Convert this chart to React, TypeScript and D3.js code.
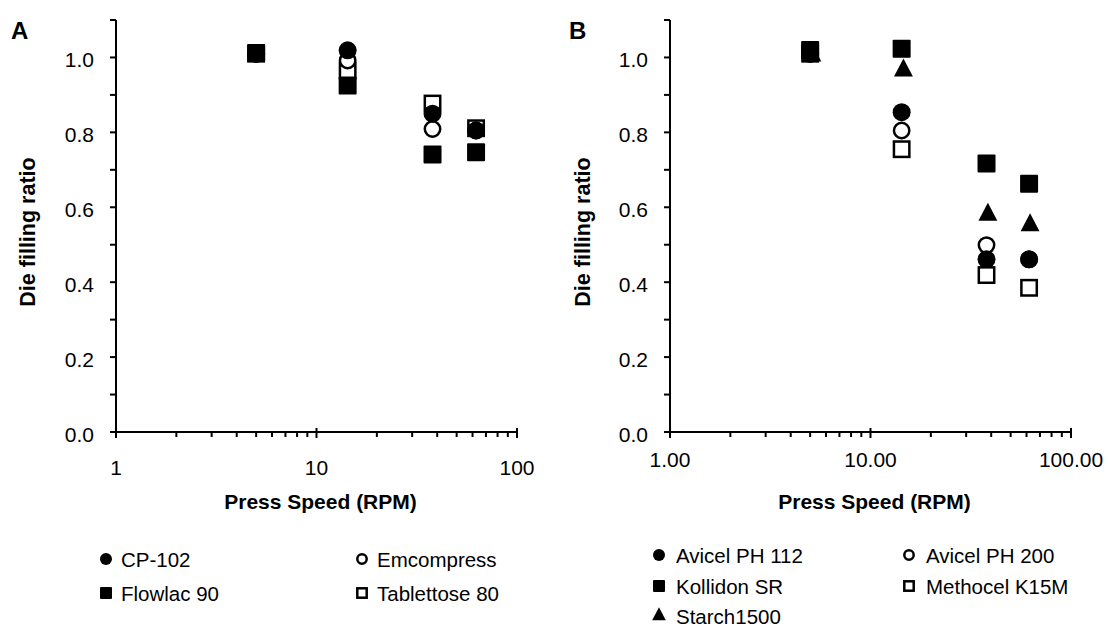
import React from "react";
import * as d3 from "d3";

// ---------- data ----------
const speedsA = [5, 14.3, 37.9, 62.5];
const cp102 = [1.01, 1.019, 0.85, 0.805];
const emcompress = [1.01, 0.992, 0.809, 0.805];
const flowlac90 = [1.012, 0.925, 0.741, 0.747];
const tablettose80 = [1.01, 0.965, 0.877, 0.811];

const speedsB = [5, 14.3, 37.9, 61.8];
const speedsStarch = [5.1, 14.6, 38.5, 62.5];
const avicel112 = [1.01, 0.854, 0.461, 0.461];
const avicel200 = [1.01, 0.805, 0.499, 0.461];
const kollidonSR = [1.02, 1.023, 0.717, 0.663];
const methocelK15M = [1.01, 0.755, 0.419, 0.385];
const starch1500 = [1.005, 0.965, 0.58, 0.552];

const yMajorTicks = [0, 0.2, 0.4, 0.6, 0.8, 1.0];
const yMinorTicks = [0.1, 0.3, 0.5, 0.7, 0.9, 1.1];
const xMajorTicks = [1, 10, 100];
const xMinorTicks = [2, 3, 4, 5, 6, 7, 8, 9, 20, 30, 40, 50, 60, 70, 80, 90];
const xTickLabelsA = ["1", "10", "100"];
const xTickLabelsB = ["1.00", "10.00", "100.00"];
const yTickLabels = ["0.0", "0.2", "0.4", "0.6", "0.8", "1.0"];

type Shape = "circle" | "circleOpen" | "square" | "squareOpen" | "triangle";
interface Series { name: string; x: number[]; y: number[]; shape: Shape }

const seriesA: Series[] = [
  { name: "CP-102", x: speedsA, y: cp102, shape: "circle" },
  { name: "Emcompress", x: speedsA, y: emcompress, shape: "circleOpen" },
  { name: "Flowlac 90", x: speedsA, y: flowlac90, shape: "square" },
  { name: "Tablettose 80", x: speedsA, y: tablettose80, shape: "squareOpen" },
];
const drawOrderA = [3, 1, 0, 2];

const seriesB: Series[] = [
  { name: "Avicel PH 112", x: speedsB, y: avicel112, shape: "circle" },
  { name: "Avicel PH 200", x: speedsB, y: avicel200, shape: "circleOpen" },
  { name: "Kollidon SR", x: speedsB, y: kollidonSR, shape: "square" },
  { name: "Methocel K15M", x: speedsB, y: methocelK15M, shape: "squareOpen" },
  { name: "Starch1500", x: speedsStarch, y: starch1500, shape: "triangle" },
];
const drawOrderB = [1, 0, 3, 4, 2];

const FONT = "'Liberation Sans', Arial, sans-serif";

function Marker({ cx, cy, shape, size }: { cx: number; cy: number; shape: Shape; size: number }) {
  const h = size / 2;
  switch (shape) {
    case "circle":
      return <circle cx={cx} cy={cy} r={h} fill="#000" />;
    case "circleOpen":
      return <circle cx={cx} cy={cy} r={h - 1.3} fill="#fff" stroke="#000" strokeWidth={2.5} />;
    case "square":
      return <rect x={cx - h} y={cy - h} width={size} height={size} rx={1} fill="#000" />;
    case "squareOpen":
      return (
        <rect x={cx - h + 1.3} y={cy - h + 1.3} width={size - 2.6} height={size - 2.6} fill="#fff" stroke="#000" strokeWidth={2.5} />
      );
    case "triangle": {
      const w = size * 1.05;
      const ht = size;
      const p = d3.path();
      p.moveTo(cx, cy - (ht * 2) / 3);
      p.lineTo(cx + w / 2, cy + ht / 3);
      p.lineTo(cx - w / 2, cy + ht / 3);
      p.closePath();
      return <path d={p.toString()} fill="#000" />;
    }
  }
  return null;
}

interface PanelProps {
  x0: number;
  x1: number;
  series: Series[];
  order: number[];
  xLabels: string[];
  xLabelBaseline: number;
  letter: string;
  letterX: number;
  yTitleX: number;
  legend: { colX: number[]; textDx: number; rows: number[] };
}

function Panel(props: PanelProps) {
  const { x0, x1, series, order, xLabels, xLabelBaseline, letter, letterX, yTitleX, legend } = props;
  const xs = d3.scaleLog().domain([1, 100]).range([x0, x1]);
  const ys = d3.scaleLinear().domain([0, 1.1]).range([432, 20]);
  const yBase = ys(0);
  const axisW = 2;
  return (
    <g>
      <text x={letterX} y={39} fontFamily={FONT} fontWeight="bold" fontSize={24}>{letter}</text>
      {/* y axis */}
      <line x1={x0} x2={x0} y1={ys(1.1)} y2={yBase + 1} stroke="#000" strokeWidth={axisW} />
      {yMajorTicks.map((t, i) => (
        <g key={"ym" + i}>
          <line x1={x0 - 6} x2={x0} y1={ys(t)} y2={ys(t)} stroke="#000" strokeWidth={axisW} />
          <text x={x0 - 22} y={ys(t) + 10} textAnchor="end" fontFamily={FONT} fontSize={21}>{yTickLabels[i]}</text>
        </g>
      ))}
      {yMinorTicks.map((t, i) => (
        <line key={"yn" + i} x1={x0 - 6} x2={x0} y1={ys(t)} y2={ys(t)} stroke="#000" strokeWidth={axisW} />
      ))}
      <text
        transform={`translate(${yTitleX},${(ys(0) + ys(1.1)) / 2 + 6}) rotate(-90)`}
        textAnchor="middle"
        fontFamily={FONT}
        fontWeight="bold"
        fontSize={21.5}
        dy="0.35em"
      >
        Die filling ratio
      </text>
      {/* x axis */}
      <line x1={x0 - 1} x2={x1 + 1} y1={yBase} y2={yBase} stroke="#000" strokeWidth={axisW} />
      {xMajorTicks.map((t, i) => (
        <g key={"xm" + i}>
          <line x1={xs(t)} x2={xs(t)} y1={yBase - 4} y2={yBase + 6} stroke="#000" strokeWidth={axisW} />
          <text x={xs(t)} y={xLabelBaseline} textAnchor="middle" fontFamily={FONT} fontSize={21}>{xLabels[i]}</text>
        </g>
      ))}
      {xMinorTicks.map((t, i) => (
        <line key={"xn" + i} x1={xs(t)} x2={xs(t)} y1={yBase} y2={yBase + 5} stroke="#000" strokeWidth={axisW} />
      ))}
      <text x={(x0 + x1) / 2 + 4} y={509} textAnchor="middle" fontFamily={FONT} fontWeight="bold" fontSize={21}>
        Press Speed (RPM)
      </text>
      {/* data */}
      {order.map((si) => {
        const s = series[si];
        return (
          <g key={"s" + si}>
            {s.x.map((xv, j) => (
              <Marker key={j} cx={xs(xv)} cy={ys(s.y[j])} shape={s.shape} size={18} />
            ))}
          </g>
        );
      })}
      {/* legend */}
      {series.map((s, i) => {
        const col = i % 2;
        const row = Math.floor(i / 2);
        const mx = legend.colX[col];
        const by = legend.rows[row];
        return (
          <g key={"lg" + i}>
            <Marker cx={mx} cy={by - 8} shape={s.shape} size={s.shape === "triangle" ? 13 : 12} />
            <text x={mx + legend.textDx} y={by} fontFamily={FONT} fontSize={20.5}>{s.name}</text>
          </g>
        );
      })}
    </g>
  );
}

export default function App() {
  return (
    <svg
      width={1108}
      height={630}
      style={{ position: "absolute", left: 0, top: 0, background: "#fff" }}
    >
      <rect width={1108} height={630} fill="#fff" />
      <Panel
        x0={116}
        x1={517}
        series={seriesA}
        order={drawOrderA}
        xLabels={xTickLabelsA}
        xLabelBaseline={475}
        letter="A"
        letterX={11}
        yTitleX={27}
        legend={{ colX: [106, 362], textDx: 15, rows: [567, 601] }}
      />
      <Panel
        x0={670}
        x1={1071}
        series={seriesB}
        order={drawOrderB}
        xLabels={xTickLabelsB}
        xLabelBaseline={467}
        letter="B"
        letterX={569}
        yTitleX={582}
        legend={{ colX: [659, 909], textDx: 17, rows: [563, 594, 624] }}
      />
    </svg>
  );
}
